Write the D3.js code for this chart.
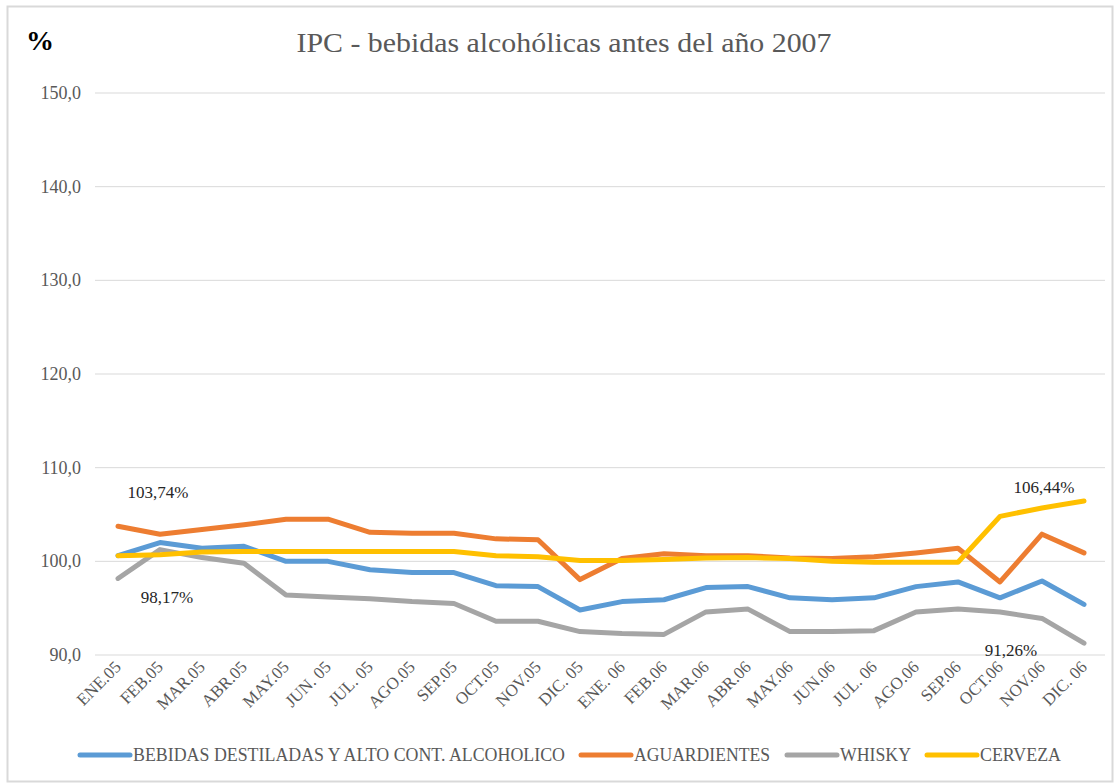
<!DOCTYPE html>
<html><head><meta charset="utf-8">
<script src="https://cdn.jsdelivr.net/npm/d3@7"></script>
<style>
html,body{margin:0;padding:0;background:#fff;}
svg, svg text{font-family:"Liberation Serif","DejaVu Serif","Times New Roman",serif;}
</style></head>
<body><svg id="c" width="1115" height="783"></svg>
<script>
const categories = ["ENE.05","FEB.05","MAR.05","ABR.05","MAY.05","JUN. 05","JUL. 05","AGO.05","SEP.05","OCT.05","NOV.05","DIC. 05","ENE. 06","FEB.06","MAR.06","ABR.06","MAY.06","JUN.06","JUL. 06","AGO.06","SEP.06","OCT.06","NOV.06","DIC. 06"];
const bebidas = [100.6,102.0,101.4,101.6,100.0,100.0,99.1,98.8,98.8,97.4,97.3,94.8,95.7,95.9,97.2,97.3,96.1,95.9,96.1,97.3,97.8,96.1,97.9,95.4];
const aguardientes = [103.74,102.9,103.4,103.9,104.5,104.5,103.1,103.0,103.0,102.4,102.3,98.05,100.3,100.8,100.6,100.6,100.35,100.3,100.5,100.9,101.4,97.8,102.9,100.9];
const whisky = [98.17,101.25,100.4,99.8,96.4,96.2,96.0,95.7,95.5,93.6,93.6,92.5,92.3,92.2,94.6,94.9,92.5,92.5,92.6,94.6,94.9,94.6,93.9,91.26];
const cerveza = [100.6,100.7,101.0,101.05,101.05,101.05,101.05,101.05,101.05,100.6,100.5,100.1,100.1,100.2,100.35,100.4,100.3,100.0,99.9,99.9,99.9,104.8,105.7,106.44];
const seriesNames = ["BEBIDAS DESTILADAS Y ALTO CONT. ALCOHOLICO","AGUARDIENTES","WHISKY","CERVEZA"];
const seriesColors = ["#5B9BD5","#ED7D31","#A5A5A5","#FFC000"];
const yTicks = [90,100,110,120,130,140,150];
const title = "IPC - bebidas alcohólicas antes del año 2007";
const yUnit = "%";
const annotations = [
  {series:1, idx:0, text:"103,74%", dx:40, dy:-28},
  {series:2, idx:0, text:"98,17%", dx:49, dy:25},
  {series:3, idx:23, text:"106,44%", dx:-40, dy:-8},
  {series:2, idx:23, text:"91,26%", dx:-73, dy:13}
];

const FONT = "'Liberation Serif','DejaVu Serif','Times New Roman',serif";
const allSeries = [bebidas, aguardientes, whisky, cerveza];
const svg = d3.select("#c").attr("font-family", FONT);

svg.append("rect").attr("x",7.5).attr("y",6.5).attr("width",1105).attr("height",775)
  .attr("fill","#fff").attr("stroke","#d9d9d9").attr("stroke-width",2);

const x = d3.scalePoint().domain(categories).range([97,1105]).padding(0.5);
const y = d3.scaleLinear().domain([90,150]).range([655,93]);

svg.append("g").selectAll("line").data(yTicks).join("line")
  .attr("x1",95).attr("x2",1105)
  .attr("y1",d=>y(d)).attr("y2",d=>y(d))
  .attr("stroke","#d9d9d9").attr("stroke-width",1);

const fmt = d => d3.format(".1f")(d).replace(".",",");
svg.append("g").selectAll("text").data(yTicks).join("text")
  .attr("x",81).attr("y",d=>y(d)+6)
  .attr("text-anchor","end").attr("font-size",18).attr("fill","#595959")
  .attr("font-family",FONT)
  .text(fmt);

svg.append("g").selectAll("text").data(categories).join("text")
  .attr("transform",d=>`translate(${x(d)+4},${y(90)+13}) rotate(-45)`)
  .attr("text-anchor","end").attr("font-size",17).attr("fill","#595959")
  .attr("font-family",FONT)
  .text(d=>d);

const line = d3.line().x((d,i)=>x(categories[i])).y(d=>y(d));
svg.append("g").selectAll("path").data(allSeries).join("path")
  .attr("d",line).attr("fill","none")
  .attr("stroke",(d,i)=>seriesColors[i]).attr("stroke-width",5)
  .attr("stroke-linejoin","round").attr("stroke-linecap","round");

svg.append("g").selectAll("text").data(annotations).join("text")
  .attr("x",d=>x(categories[d.idx])+d.dx)
  .attr("y",d=>y(allSeries[d.series][d.idx])+d.dy)
  .attr("text-anchor","middle").attr("font-size",17).attr("fill","#262626")
  .attr("font-family",FONT)
  .text(d=>d.text);

svg.append("text").attr("x",564).attr("y",52).attr("text-anchor","middle")
  .attr("font-size",27).attr("fill","#595959").attr("font-family",FONT)
  .attr("textLength",535).attr("lengthAdjust","spacingAndGlyphs").text(title);
svg.append("text").attr("x",26).attr("y",50).attr("font-size",28)
  .attr("font-weight","bold").attr("fill","#000").attr("font-family",FONT).text(yUnit);

const legendLayout = [
  {lx:80, tl:432},
  {lx:581, tl:136},
  {lx:787, tl:71},
  {lx:927, tl:81}
];
const lg = svg.append("g");
seriesNames.forEach((n,i)=>{
  const L = legendLayout[i];
  lg.append("line").attr("x1",L.lx).attr("x2",L.lx+50).attr("y1",755).attr("y2",755)
    .attr("stroke",seriesColors[i]).attr("stroke-width",5).attr("stroke-linecap","round");
  lg.append("text").attr("x",L.lx+53).attr("y",761).attr("font-size",18).attr("fill","#595959")
    .attr("font-family",FONT)
    .attr("textLength",L.tl).attr("lengthAdjust","spacingAndGlyphs").text(n);
});
</script></body></html>
